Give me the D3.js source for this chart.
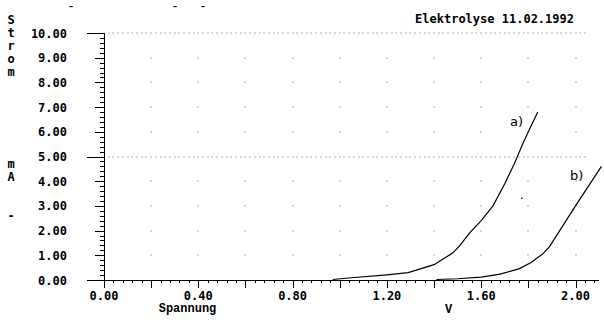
<!DOCTYPE html>
<html>
<head>
<meta charset="utf-8">
<script src="https://cdn.jsdelivr.net/npm/d3@7"></script>
<style>
  html, body { margin: 0; padding: 0; background: #fff; }
  svg { display: block; }
  .mono { font-family: "DejaVu Sans Mono", "Liberation Mono", monospace; font-weight: bold; font-size: 12px; fill: #000; }
  .lbl { font-family: "Liberation Mono", "DejaVu Sans Mono", monospace; font-weight: bold; font-size: 12px; fill: #000; }
  .curveLbl { font-family: "DejaVu Sans", sans-serif; font-size: 13px; fill: #000; }
</style>
</head>
<body>
<svg id="chart" width="604" height="330"></svg>
<script>
// Electrolysis current/voltage curves, 11.02.1992
const title = "Elektrolyse  11.02.1992";
const xTickValues = [0.0, 0.4, 0.8, 1.2, 1.6, 2.0];
const yTickValues = [0, 1, 2, 3, 4, 5, 6, 7, 8, 9, 10];
const yAxisLetters = ["S", "t", "r", "o", "m"];
const yUnitLetters = ["m", "A", "-"];

// curve a)
const aVolt = [0.97, 1.05, 1.2, 1.29, 1.4, 1.48, 1.51, 1.55, 1.6, 1.65, 1.7, 1.74, 1.78, 1.81, 1.84];
const aAmp  = [0.02, 0.09, 0.21, 0.3, 0.62, 1.1, 1.4, 1.9, 2.4, 3.0, 3.9, 4.7, 5.6, 6.2, 6.8];
// curve b)
const bVolt = [1.41, 1.5, 1.6, 1.68, 1.76, 1.81, 1.86, 1.89, 2.0, 2.11];
const bAmp  = [0.02, 0.05, 0.12, 0.24, 0.45, 0.7, 1.05, 1.35, 3.0, 4.6];
// single marked point
const markVolt = [1.772];
const markAmp = [3.31];

const svg = d3.select("#chart");
const x = d3.scaleLinear().domain([0, 2]).range([104, 575.5]);
const y = d3.scaleLinear().domain([0, 10]).range([280, 33]);

// grid: single dots at every 0.2 V / 1 mA, dense dotted rows at 5 and 10 mA
const gridX = d3.range(1, 11).map(i => i * 0.2);
const gridY = [1, 2, 3, 4, 6, 7, 8, 9];
const dots = [];
gridX.forEach(gx => gridY.forEach(gy => dots.push([gx, gy])));
svg.append("g").selectAll("rect").data(dots).join("rect")
  .attr("x", d => Math.round(x(d[0])) - 0.5).attr("y", d => Math.round(y(d[1])) - 0.5)
  .attr("width", 1).attr("height", 1).attr("fill", "#555");
const rowDots = [];
[5, 10].forEach(gy => d3.range(1, 103).forEach(i => rowDots.push([i * 0.02, gy])));
svg.append("g").selectAll("rect").data(rowDots).join("rect")
  .attr("x", d => Math.round(x(d[0])) - 0.5).attr("y", d => Math.round(y(d[1])) - 0.5)
  .attr("width", 1).attr("height", 1).attr("fill", "#666");

// y axis
const ax = svg.append("g").attr("stroke", "#000").attr("stroke-width", 1).attr("shape-rendering", "crispEdges");
ax.append("line").attr("x1", x(0)).attr("x2", x(0)).attr("y1", y(10)).attr("y2", y(0) + 8);
d3.range(0, 51).forEach(i => {
  const v = i * 0.2;
  const len = (i % 25 === 0) ? 17 : (i % 5 === 0 ? 9 : 4);
  ax.append("line").attr("x1", x(0) - len).attr("x2", x(0)).attr("y1", Math.round(y(v)) + 0.5).attr("y2", Math.round(y(v)) + 0.5);
});
// x axis
ax.append("line").attr("x1", x(0) - 17).attr("x2", x(2.1)).attr("y1", y(0)).attr("y2", y(0));
d3.range(1, 53).forEach(i => {
  const v = i * 0.04;
  const len = (i % 5 === 0) ? 8 : 3;
  ax.append("line").attr("x1", Math.round(x(v)) + 0.5).attr("x2", Math.round(x(v)) + 0.5).attr("y1", y(0)).attr("y2", y(0) + len);
});

// tick labels
svg.append("g").selectAll("text").data(yTickValues).join("text")
  .attr("class", "mono").attr("text-anchor", "end")
  .attr("x", 67).attr("y", d => y(d) + 4.5)
  .text(d => d3.format(".2f")(d));
svg.append("g").selectAll("text").data(xTickValues).join("text")
  .attr("class", "mono").attr("text-anchor", "middle")
  .attr("x", d => x(d)).attr("y", 299.5)
  .text(d => d3.format(".2f")(d));

// axis titles
svg.append("g").selectAll("text").data(yAxisLetters).join("text")
  .attr("class", "mono").attr("font-size", "11px").attr("text-anchor", "middle")
  .attr("x", 11).attr("y", (d, i) => 23.5 + i * 13).text(d => d);
svg.append("g").selectAll("text").data(yUnitLetters).join("text")
  .attr("class", "mono").attr("font-size", "11px").attr("text-anchor", "middle")
  .attr("x", 11).attr("y", (d, i) => [168, 181, 220][i]).text(d => d);
svg.append("text").attr("class", "lbl").attr("text-anchor", "middle").attr("x", 187.5).attr("y", 312).text("Spannung");
svg.append("text").attr("class", "lbl").attr("text-anchor", "middle").attr("x", 448.5).attr("y", 313).text("V");
svg.append("text").attr("class", "mono").attr("text-anchor", "end").attr("x", 574).attr("y", 23).text(title);
// header marks
svg.append("g").selectAll("text").data([71, 175, 203]).join("text")
  .attr("font-family", "DejaVu Sans, sans-serif").attr("font-weight", "bold").attr("font-size", "9px")
  .attr("text-anchor", "middle").attr("x", d => d).attr("y", 9).text("\u2013");

// curves
const line = d3.line().x(d => x(d[0])).y(d => y(d[1]));
svg.append("path").datum(d3.zip(aVolt, aAmp)).attr("d", line)
  .attr("fill", "none").attr("stroke", "#000").attr("stroke-width", 1.2);
svg.append("path").datum(d3.zip(bVolt, bAmp)).attr("d", line)
  .attr("fill", "none").attr("stroke", "#000").attr("stroke-width", 1.2);
svg.append("g").selectAll("rect").data(d3.zip(markVolt, markAmp)).join("rect")
  .attr("x", d => x(d[0]) - 0.75).attr("y", d => y(d[1]) - 0.75).attr("width", 1.5).attr("height", 1.5).attr("fill", "#222");

svg.append("text").attr("class", "curveLbl").attr("x", x(1.722)).attr("y", y(6.23)).text("a)");
svg.append("text").attr("class", "curveLbl").attr("x", x(1.977)).attr("y", y(4.05)).text("b)");
</script>
</body>
</html>
